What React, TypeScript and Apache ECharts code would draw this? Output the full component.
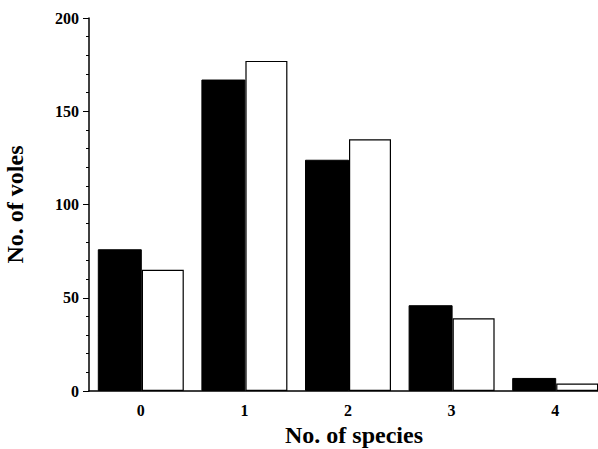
import { useEffect, useRef } from "react";
import * as echarts from "echarts";

const categories = ["0", "1", "2", "3", "4"];
const blackValues = [76, 167, 124, 46, 7];
const whiteValues = [65, 177, 135, 39, 4];
const yTicks = [0, 50, 100, 150, 200];

export default function App() {
  const chartRef = useRef<HTMLDivElement>(null);

  useEffect(() => {
    if (!chartRef.current) return;
    const chart = echarts.init(chartRef.current, null, { renderer: "svg" });
    const font = "Liberation Serif";

    chart.setOption({
      animation: false,
      textStyle: { fontFamily: font },
      grid: { left: 89, top: 18, width: 518, height: 373, outerBoundsMode: "none", containLabel: false },
      xAxis: {
        type: "category",
        data: categories,
        name: "No. of species",
        nameLocation: "middle",
        nameGap: 30,
        nameTextStyle: { fontSize: 24, fontWeight: "bold", color: "#000", fontFamily: font, padding: [0, 0, 0, 12] },
        axisLine: { lineStyle: { color: "#000", width: 1.5 } },
        axisTick: { lineStyle: { color: "#000" }, length: 5 },
        axisLabel: { fontSize: 16, fontWeight: "bold", color: "#000", fontFamily: font, margin: 11 },
      },
      yAxis: {
        type: "value",
        min: yTicks[0],
        max: yTicks[yTicks.length - 1],
        interval: 50,
        name: "No. of voles",
        nameLocation: "middle",
        nameGap: 62,
        nameTextStyle: { fontSize: 24, fontWeight: "bold", color: "#000", fontFamily: font },
        axisLine: { show: true, lineStyle: { color: "#000", width: 1.5 } },
        axisTick: { show: true, length: 6, lineStyle: { color: "#000" } },
        minorTick: { show: true, splitNumber: 5, length: 3, lineStyle: { color: "#000" } },
        splitLine: { show: false },
        axisLabel: { fontSize: 16, fontWeight: "bold", color: "#000", fontFamily: font, margin: 10 },
      },
      series: [
        {
          type: "bar",
          data: blackValues,
          barWidth: 44,
          barGap: "0%",
          itemStyle: { color: "#000", borderColor: "#000", borderWidth: 1 },
        },
        {
          type: "bar",
          data: whiteValues,
          barWidth: 42,
          itemStyle: { color: "#fff", borderColor: "#000", borderWidth: 1.2 },
        },
      ],
    });

    return () => chart.dispose();
  }, []);

  return (
    <div
      ref={chartRef}
      style={{ position: "fixed", left: 0, top: 0, width: 598, height: 449, background: "#fff" }}
    />
  );
}
